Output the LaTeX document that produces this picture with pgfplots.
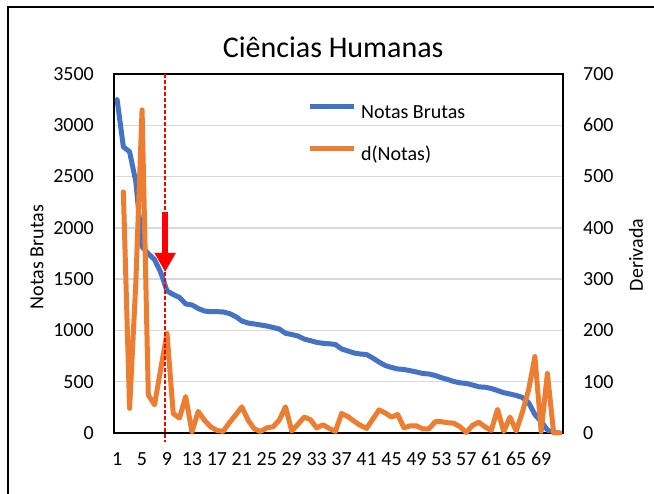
\documentclass[border=0pt]{standalone}
\usepackage{fontspec}
\setmainfont{Carlito}
\usepackage{pgfplots}
\usepackage{pgfplotstable}
\pgfplotsset{compat=1.18}
\usetikzlibrary{arrows.meta}
\definecolor{xblue}{HTML}{4472C4}
\definecolor{xorange}{HTML}{ED7D31}
\definecolor{xgrid}{HTML}{D9D9D9}
\definecolor{xred}{HTML}{FF0000}

\pgfplotstableread{
x y
1 3250
2 2790
3 2742
4 2450
5 1816
6 1748
7 1690
8 1565
9 1385
10 1350
11 1321
12 1258
13 1248
14 1214
15 1189
16 1183
17 1183
18 1180
19 1165
20 1136
21 1092
22 1072
23 1063
24 1053
25 1043
26 1029
27 1014
28 972
29 960
30 946
31 916
32 900
33 884
34 874
35 870
36 863
37 819
38 800
39 780
40 770
41 765
42 731
43 692
44 658
45 639
46 624
47 619
48 607
49 595
50 580
51 575
52 561
53 539
54 522
55 502
56 489
57 483
58 468
59 450
60 446
61 434
62 414
63 393
64 380
65 366
66 346
67 295
68 180
69 112
70 30
71 0
72 0
}\notas

\pgfplotstableread{
x y
2 470
3 48
4 293
5 630
6 74
7 55
8 125
9 194
10 38
11 29
12 71
13 2
14 42
15 25
16 12
17 5
18 3
19 20
20 35
21 51
22 25
23 8
24 3
25 10
26 12
27 25
28 51
29 4
30 17
31 31
32 26
33 10
34 16
35 9
36 3
37 38
38 32
39 23
40 15
41 9
42 27
43 45
44 39
45 31
46 36
47 10
48 14
49 14
50 8
51 8
52 22
53 22
54 20
55 19
56 12
57 1
58 15
59 21
60 12
61 5
62 46
63 3
64 31
65 4
66 41
67 85
68 149
69 3
70 116
71 0
72 0
}\deriv

\begin{document}
\begin{tikzpicture}
\useasboundingbox (0pt,0pt) rectangle (654pt,494pt);
\draw[line width=1.6pt] (8pt,-2pt) -- (8pt,487pt) -- (660pt,487pt);
\begin{axis}[
  at={(114pt,61pt)}, anchor=south west,
  width=449pt, height=359pt, scale only axis,
  xmin=0.5, xmax=72.5, ymin=0, ymax=3500,
  xtick={1,5,...,69}, ytick={0,500,...,3500},
  major tick length=0pt,
  ymajorgrids, grid style={xgrid, line width=1.5pt},
  axis line style={black, line width=1.5pt},
  tick label style={font=\fontsize{20}{22}\selectfont},
  /pgf/number format/assume math mode=true,
  /pgf/number format/1000 sep={},
  yticklabel style={anchor=east, inner sep=0pt, xshift=-20pt},
  xticklabel style={anchor=north, inner sep=0pt, yshift=-19pt},
  ylabel={Notas Brutas},
  every axis y label/.style={at={(axis description cs:-0.1715,0.49)}, rotate=90, anchor=center, font=\fontsize{20}{22}\selectfont},
]
\addplot[xblue, line width=5pt, line join=round, line cap=round] table[x=x,y=y] {\notas};
\end{axis}
\begin{axis}[
  at={(114pt,61pt)}, anchor=south west,
  width=449pt, height=359pt, scale only axis,
  xmin=0.5, xmax=72.5, ymin=0, ymax=700,
  axis x line=none, axis y line*=right,
  ytick={0,100,...,700}, major tick length=0pt,
  axis line style={black, line width=1.5pt},
  tick label style={font=\fontsize{20}{22}\selectfont},
  /pgf/number format/assume math mode=true,
  /pgf/number format/1000 sep={},
  yticklabel style={anchor=west, inner sep=0pt, xshift=20pt},
  ylabel={Derivada},
  every axis y label/.style={at={(axis description cs:1.1626,0.496)}, rotate=90, anchor=center, font=\fontsize{20}{22}\selectfont},
  clip=false,
  legend style={at={(axis description cs:0.4298,0.9164)}, anchor=north west, draw=none, fill=none, inner sep=0pt,
    font=\fontsize{20}{22}\selectfont, row sep=23pt,
    nodes={inner sep=0pt, text height=14pt, text depth=4pt},
    /tikz/every odd column/.append style={column sep=5pt}},
  legend cell align=left,
  legend image code/.code={\draw[#1, line width=5pt, line cap=butt] (0pt,7pt) -- (44pt,7pt);},
]
\addlegendimage{xblue}
\addlegendentry{Notas Brutas}
\addplot[xorange, line width=5pt, line join=round, line cap=round] table[x=x,y=y] {\deriv};
\addlegendentry{d(Notas)}
\draw[color=xred, line width=1.3pt, dash pattern=on 4pt off 2pt] (axis cs:8.7,700) -- (axis cs:8.7,-17);
\draw[red, line width=6pt, -{Triangle[width=20pt,length=19pt]}] (axis cs:8.7,431) -- (axis cs:8.7,314);
\node[font=\fontsize{30}{32}\selectfont, anchor=center] at (axis description cs:0.488,1.075) {Ciências Humanas};
\end{axis}
\end{tikzpicture}
\end{document}
